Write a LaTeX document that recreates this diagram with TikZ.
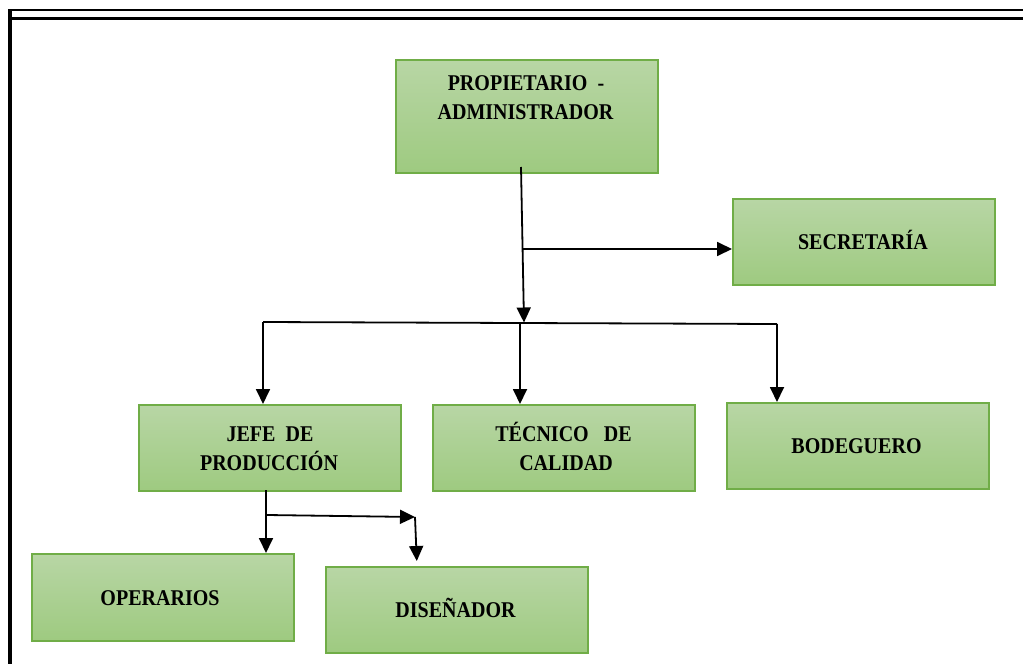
\documentclass[tikz,border=0pt]{standalone}
\usepackage{fontspec}
\setmainfont{Liberation Serif}[FakeStretch=0.89]
\usetikzlibrary{arrows.meta,calc}

\definecolor{boxtop}{RGB}{184,214,165}
\definecolor{boxbot}{RGB}{158,202,128}
\definecolor{boxline}{RGB}{112,173,71}

\tikzset{
  orgbox/.style={draw=boxline, line width=1.8pt, top color=boxtop, bottom color=boxbot,
    rectangle, minimum width=262pt, minimum height=86pt, inner sep=0pt, anchor=north west},
  boxtext/.style={anchor=base, inner sep=0pt, font=\fontsize{22.5}{29}\selectfont\bfseries},
  link/.style={draw=black, line width=1.8pt},
  arrowlink/.style={link, -{Triangle[length=15pt,width=14pt]}},
  framerule/.style={draw=black, line width=2.6pt}
}

\begin{document}
\begin{tikzpicture}[x=1pt,y=-1pt]
  \useasboundingbox (0,0) rectangle (1023,664);

  % page frame
  \draw[framerule] (8,10) -- (1023,10);
  \draw[framerule, line width=3pt] (10,18) -- (1023,18);
  \draw[framerule, line width=3.4pt] (10,9) -- (10,664);

  % boxes
  \node[orgbox, minimum height=113pt] (prop) at (395,59) {};
  \node[orgbox] (secr) at (732,198) {};
  \node[orgbox] (jefe) at (138,404) {};
  \node[orgbox] (tecn) at (432,404) {};
  \node[orgbox] (bode) at (726,402) {};
  \node[orgbox, minimum height=87pt] (oper) at (31,553) {};
  \node[orgbox] (dise) at (325,566) {};

  % labels
  \node[boxtext] (propA) at (526,90.5) {PROPIETARIO\ \ -};
  \node[boxtext] (propB) at (525.5,119) {ADMINISTRADOR};
  \node[boxtext] (secrA) at (863,249) {SECRETARÍA};
  \node[boxtext] (jefeA) at (270,441) {JEFE\ \ DE};
  \node[boxtext] (jefeB) at (269,470) {PRODUCCIÓN};
  \node[boxtext] (tecnA) at (563.5,441) {TÉCNICO\ \ \ DE};
  \node[boxtext] (tecnB) at (566,470) {CALIDAD};
  \node[boxtext] (bodeA) at (856.5,453) {BODEGUERO};
  \node[boxtext] (operA) at (160,605) {OPERARIOS};
  \node[boxtext] (diseA) at (455.5,617) {DISEÑADOR};

  % connector points
  \coordinate (trunk) at (521,167);
  \coordinate (secrFork) at (522,249);
  \coordinate (busL) at (263,322);
  \coordinate (busM) at (524,322.5);
  \coordinate (busC) at (520,322.5);
  \coordinate (busR) at (777,324);
  \coordinate (jefeOut) at (266,490);
  \coordinate (jefeFork) at (267,515);
  \coordinate (elbow) at (415,517);

  % connectors from the owner
  \draw[arrowlink] (trunk) -- (busM);
  \draw[arrowlink] (secrFork) -- (secrFork -| secr.west);
  \draw[link] (busL) -- (busR);
  \draw[arrowlink] (busL) -- (busL |- jefe.north);
  \draw[arrowlink] (busC) -- (busC |- tecn.north);
  \draw[arrowlink] (busR) -- (busR |- bode.north);

  % connectors from production
  \draw[arrowlink] (jefeOut) -- (jefeOut |- oper.north);
  \draw[arrowlink] (jefeFork) -- (elbow);
  \draw[arrowlink, shorten >=5pt] (elbow) -- ([xshift=2pt]elbow |- dise.north);
\end{tikzpicture}
\end{document}
